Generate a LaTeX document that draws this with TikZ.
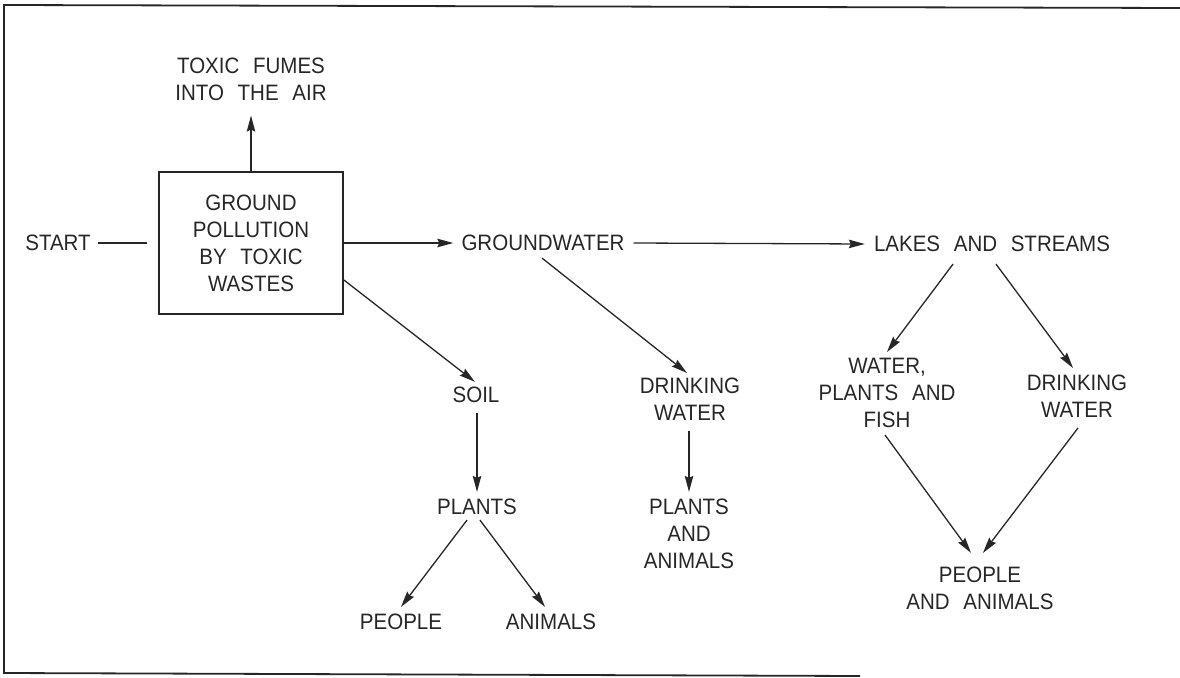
\documentclass[tikz,border=0pt]{standalone}
\usepackage{fontspec}
\setmainfont[WordSpace=2.4,FakeStretch=0.92]{Liberation Sans}
\usetikzlibrary{arrows.meta}
\definecolor{ink}{HTML}{262626}
\begin{document}
\begin{tikzpicture}[x=1pt,y=-1pt,
  lbl/.style={inner sep=0pt,align=center,text=ink,font=\fontsize{22.3}{27}\selectfont},
  arr/.style={draw=ink,line width=1.3pt,-{Stealth[length=16pt,width=8.5pt,inset=2pt]}},
  ln/.style={draw=ink,line width=1.3pt},
  frame/.style={draw=ink,line width=1.8pt}]
\useasboundingbox (0,0) rectangle (1180,677);
\draw[frame] (1180,8) -- (4,5) -- (4,673) -- (860,676);

\node[lbl] (fumes) at (251,79) {TOXIC FUMES\\INTO THE AIR};
\node[lbl,draw=ink,line width=1.8pt,minimum width=184pt,minimum height=142pt] (box) at (251,243) {GROUND\\POLLUTION\\BY TOXIC\\WASTES};
\node[lbl] (start) at (58,243) {START};
\node[lbl] (gw) at (543,243) {GROUNDWATER};
\node[lbl] (lakes) at (992,244) {LAKES AND STREAMS};
\node[lbl] (soil) at (476,395) {SOIL};
\node[lbl] (dw1) at (690,399.5) {DRINKING\\WATER};
\node[lbl] (pa) at (689,534) {PLANTS\\AND\\ANIMALS};
\node[lbl] (plants) at (477,507) {PLANTS};
\node[lbl] (people) at (401,622) {PEOPLE};
\node[lbl] (animals) at (551,622) {ANIMALS};
\node[lbl] (wpf) at (887,393) {WATER,\\PLANTS AND\\FISH};
\node[lbl] (dw2) at (1077,396.5) {DRINKING\\WATER};
\node[lbl] (pan) at (980,588.5) {PEOPLE\\AND ANIMALS};

\draw[ln] ([xshift=7pt]start.east) -- ([xshift=-11pt]box.west);
\draw[arr] (box.north) -- ([yshift=-15pt]fumes.south);
\draw[arr] (box.east) -- ([xshift=-8pt]gw.west);
\draw[arr] ([xshift=9pt]gw.east) -- ([xshift=-9pt]lakes.west);
\draw[arr] ([yshift=-37pt]box.east) -- ([xshift=-1pt,yshift=5pt]soil.north);
\draw[arr] ([xshift=-1pt,yshift=-7pt]gw.south) -- ([xshift=-3pt,yshift=5pt]dw1.north);
\draw[arr] ([xshift=-1pt,yshift=-10pt]dw1.south) -- ([yshift=7pt]pa.north);
\draw[arr] ([xshift=1pt,yshift=-10pt]soil.south) -- ([yshift=7pt]plants.north);
\draw[arr] ([xshift=-10pt,yshift=-5pt]plants.south) -- ([yshift=7pt]people.north);
\draw[arr] ([xshift=3pt,yshift=-5pt]plants.south) -- ([xshift=-6pt,yshift=7pt]animals.north);
\draw[arr] ([xshift=-39pt,yshift=-12pt]lakes.south) -- ([yshift=6pt]wpf.north);
\draw[arr] ([xshift=4pt,yshift=-12pt]lakes.south) -- ([xshift=-4pt,yshift=7pt]dw2.north);
\draw[arr] ([xshift=-2pt,yshift=-7pt]wpf.south) -- ([xshift=-9pt,yshift=14pt]pan.north);
\draw[arr] ([xshift=1pt,yshift=-10pt]dw2.south) -- ([xshift=3pt,yshift=14pt]pan.north);
\end{tikzpicture}
\end{document}
